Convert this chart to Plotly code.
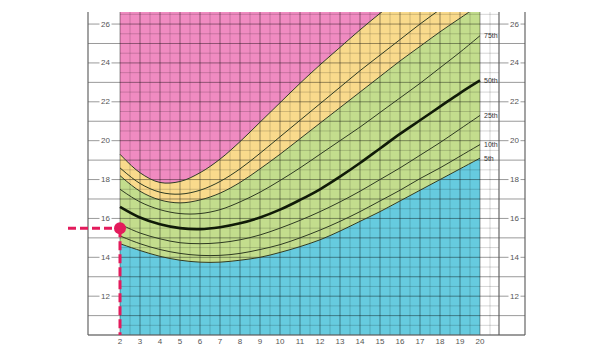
import numpy as np
import plotly.graph_objects as go

# ---------------- data ----------------
ages = list(range(2, 21))
p5  = [14.7, 14.35, 14.05, 13.85, 13.75, 13.75, 13.85, 14.0, 14.25, 14.55, 14.9, 15.35, 15.85, 16.35, 16.9, 17.45, 18.0, 18.55, 19.1]
p10 = [15.1, 14.7, 14.4, 14.2, 14.1, 14.1, 14.2, 14.4, 14.65, 15.0, 15.4, 15.85, 16.35, 16.9, 17.45, 18.05, 18.6, 19.2, 19.8]
p25 = [15.7, 15.25, 14.95, 14.75, 14.7, 14.75, 14.9, 15.15, 15.5, 15.9, 16.35, 16.85, 17.4, 18.0, 18.6, 19.25, 19.9, 20.6, 21.3]
p50 = [16.6, 16.05, 15.7, 15.5, 15.45, 15.55, 15.75, 16.05, 16.45, 16.95, 17.5, 18.15, 18.85, 19.6, 20.35, 21.05, 21.75, 22.45, 23.1]
p75 = [17.5, 16.85, 16.45, 16.25, 16.25, 16.45, 16.85, 17.35, 17.95, 18.6, 19.3, 20.0, 20.7, 21.45, 22.2, 22.95, 23.75, 24.55, 25.4]
p85 = [18.2, 17.4, 16.95, 16.8, 16.95, 17.3, 17.85, 18.55, 19.3, 20.1, 20.9, 21.7, 22.5, 23.3, 24.1, 24.85, 25.6, 26.3, 27.0]
p90 = [18.6, 17.8, 17.35, 17.25, 17.45, 17.9, 18.55, 19.35, 20.2, 21.05, 21.9, 22.75, 23.6, 24.4, 25.2, 26.0, 26.75, 27.5, 28.2]
p95 = [19.3, 18.35, 17.85, 17.9, 18.35, 19.05, 19.95, 20.95, 21.95, 22.95, 23.9, 24.8, 25.7, 26.55, 27.35, 28.15, 28.95, 29.75, 30.55]

labelled = [("75th", p75), ("50th", p50), ("25th", p25), ("10th", p10), ("5th", p5)]
bmi_ticks = [12, 14, 16, 18, 20, 22, 24, 26]
age_ticks = ages

child_age = 2
child_bmi = 15.5
leader_start_age = -0.6

# ---------------- styling / frame ----------------
BMI_MIN, BMI_TOP = 10, 26.62
AGE_MIN, AGE_MAX = 2, 20
LEFT_FRAME, INNER_RIGHT, OUTER_RIGHT = 0.4, 20.95, 22.25

C_BLUE = "#66CBDF"
C_GREEN = "#C3DD8D"
C_YELLOW = "#F9DA8C"
C_PINK = "#F08BC1"
RED = "#E31B5C"

fig = go.Figure()

def add_fill(y, color, fill):
    fig.add_trace(go.Scatter(x=ages, y=y, mode="lines", line=dict(width=0, shape="spline"),
                             fill=fill, fillcolor=color, hoverinfo="skip"))

add_fill([BMI_MIN] * len(ages), None, None)
add_fill(p5, C_BLUE, "tonexty")
add_fill(p85, C_GREEN, "tonexty")
add_fill(p95, C_YELLOW, "tonexty")
add_fill([BMI_TOP + 5] * len(ages), C_PINK, "tonexty")

# ---------------- grid (as line traces, over the fills) ----------------
def seg_trace(segs, color, width):
    xs, ys = [], []
    for (x0, y0, x1, y1) in segs:
        xs += [x0, x1, None]
        ys += [y0, y1, None]
    fig.add_trace(go.Scatter(x=xs, y=ys, mode="lines", line=dict(color=color, width=width),
                             hoverinfo="skip"))

minor, major, frame = [], [], []
for v in np.arange(AGE_MIN, INNER_RIGHT, 0.5):
    if abs(v - round(v)) < 1e-9:
        major.append((v, BMI_MIN, v, BMI_TOP))
    else:
        minor.append((v, BMI_MIN, v, BMI_TOP))
for h in np.arange(BMI_MIN + 0.5, BMI_TOP, 0.5):
    if abs(h - round(h)) < 1e-9:
        major.append((LEFT_FRAME, h, OUTER_RIGHT, h))
    else:
        minor.append((AGE_MIN, h, INNER_RIGHT, h))
frame.append((LEFT_FRAME, BMI_MIN, LEFT_FRAME, BMI_TOP))
frame.append((INNER_RIGHT, BMI_MIN, INNER_RIGHT, BMI_TOP))
frame.append((OUTER_RIGHT, BMI_MIN, OUTER_RIGHT, BMI_TOP))
frame.append((LEFT_FRAME, BMI_MIN, OUTER_RIGHT, BMI_MIN))

seg_trace(minor, "rgba(0,0,0,0.17)", 1)
seg_trace(major, "rgba(0,0,0,0.40)", 1)
seg_trace(frame, "rgba(90,90,90,0.8)", 1.4)

# ---------------- percentile curves ----------------
for y in [p5, p10, p25, p75, p85, p90, p95]:
    fig.add_trace(go.Scatter(x=ages, y=y, mode="lines",
                             line=dict(color="#2E3A22", width=1, shape="spline"), hoverinfo="skip"))
fig.add_trace(go.Scatter(x=ages, y=p50, mode="lines",
                         line=dict(color="#101a08", width=2.6, shape="spline"), hoverinfo="skip"))

# ---------------- red marker ----------------
fig.add_trace(go.Scatter(x=[leader_start_age, child_age], y=[child_bmi, child_bmi], mode="lines",
                         line=dict(color=RED, width=3, dash="8px,4px"), hoverinfo="skip"))
fig.add_trace(go.Scatter(x=[child_age, child_age], y=[child_bmi, BMI_MIN], mode="lines",
                         line=dict(color=RED, width=3, dash="9px,4px"), hoverinfo="skip"))
fig.add_trace(go.Scatter(x=[child_age], y=[child_bmi], mode="markers",
                         marker=dict(color=RED, size=12), cliponaxis=False, hoverinfo="skip"))

# ---------------- annotations ----------------
ann = []
for t in bmi_ticks:
    for xpos in (1.25, 21.72):
        ann.append(dict(x=xpos, y=t, text=str(t), showarrow=False, bgcolor="white",
                        font=dict(size=8, color="#555", family="Arial"), borderpad=1))
for name, series in labelled:
    ann.append(dict(x=AGE_MAX + 0.08, y=series[-1], text=name, showarrow=False, xanchor="left",
                    yanchor="middle", font=dict(size=7, color="#333", family="Arial")))

fig.update_layout(
    width=600, height=356,
    margin=dict(l=0, r=0, t=12, b=19),
    plot_bgcolor="white", paper_bgcolor="white",
    showlegend=False,
    annotations=ann,
    xaxis=dict(range=[-4, 26], showgrid=False, zeroline=False, showline=False,
               tickmode="array", tickvals=age_ticks, ticktext=[str(a) for a in age_ticks],
               ticks="", ticklabelstandoff=-2,
               tickfont=dict(size=8, color="#555", family="Arial")),
    yaxis=dict(range=[BMI_MIN - 0.1, BMI_TOP], showgrid=False, zeroline=False,
               showline=False, showticklabels=False, ticks=""),
)

fig.write_html("out.html", config={"displayModeBar": False, "staticPlot": True},
               post_script="document.body.style.margin='0';document.body.style.overflow='hidden';")
